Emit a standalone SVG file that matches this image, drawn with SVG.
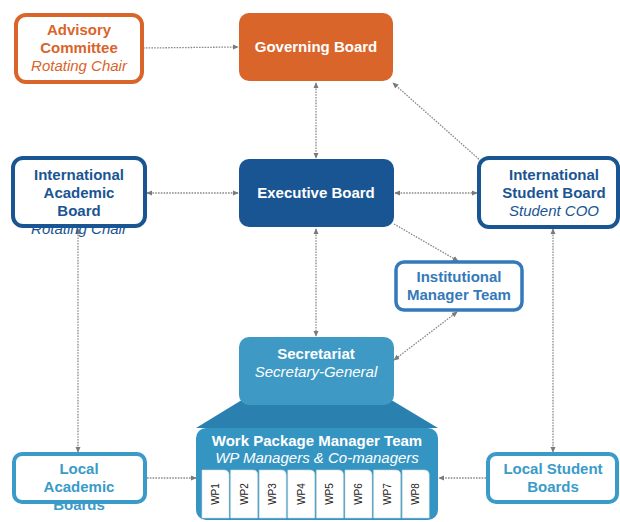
<svg xmlns="http://www.w3.org/2000/svg" width="620" height="522" viewBox="0 0 620 522">
<defs>
<style>
text{font-family:"Liberation Sans",Arial,sans-serif;font-size:15px;text-anchor:middle}
.b{font-weight:bold}
.i{font-style:italic}
.w{fill:#fff}
.or{fill:#D9652B}
.db{fill:#1A5593}
.mb{fill:#3479BA}
.lb{fill:#3A9BC8}
.con path{fill:none;stroke:#8a8a8a;stroke-width:1.3;stroke-dasharray:1.6 1.2}
.tab{fill:#fff;stroke:#c9d6de;stroke-width:0.6}
.wp{font-size:10px;fill:#222}
</style>
<marker id="ah" viewBox="0 0 8 8" refX="7" refY="4" markerWidth="6" markerHeight="6" markerUnits="userSpaceOnUse" orient="auto-start-reverse">
<path d="M0,0.5 L8,4 L0,7.5 Z" fill="#7a7a7a"/>
</marker>
</defs>
<rect width="620" height="522" fill="#fff"/>

<g class="con">
<path d="M143,48 L238,47" marker-end="url(#ah)"/>
<path d="M316,83 L316,158" marker-start="url(#ah)" marker-end="url(#ah)"/>
<path d="M316,229 L316,336" marker-start="url(#ah)" marker-end="url(#ah)"/>
<path d="M238,193 L147,193" marker-start="url(#ah)" marker-end="url(#ah)"/>
<path d="M395,193 L477,193" marker-start="url(#ah)" marker-end="url(#ah)"/>
<path d="M481,161 L393,83" marker-end="url(#ah)"/>
<path d="M394,224 L458,261" marker-end="url(#ah)"/>
<path d="M457,312 L394,360" marker-start="url(#ah)" marker-end="url(#ah)"/>
<path d="M78,229 L78,452" marker-start="url(#ah)" marker-end="url(#ah)"/>
<path d="M553,229 L553,452" marker-start="url(#ah)" marker-end="url(#ah)"/>
<path d="M147,478 L196,478" marker-end="url(#ah)"/>
<path d="M486,478 L439,478" marker-end="url(#ah)"/>
</g>

<g id="advisory">
<rect x="16" y="15" width="126" height="67" rx="10" fill="#fff" stroke="#D9652B" stroke-width="4"/>
<text class="b or" x="79" y="35">Advisory</text>
<text class="b or" x="79" y="53">Committee</text>
<text class="i or" x="79" y="71">Rotating Chair</text>
</g>

<g id="governing">
<rect x="239" y="13" width="154" height="68" rx="10" fill="#D9652B"/>
<text class="b w" x="316" y="52">Governing Board</text>
</g>

<g id="executive">
<rect x="239" y="159" width="155" height="68" rx="10" fill="#1A5593"/>
<text class="b w" x="316" y="198">Executive Board</text>
</g>

<g id="iab">
<text class="i db" x="79" y="234">Rotating Chair</text>
<rect x="13" y="158" width="132" height="68" rx="10" fill="#fff" stroke="#1A5593" stroke-width="4"/>
<text class="b db" x="79" y="180">International</text>
<text class="b db" x="79" y="198">Academic</text>
<text class="b db" x="79" y="216">Board</text>
</g>

<g id="isb">
<rect x="479" y="158" width="139" height="69" rx="10" fill="#fff" stroke="#1A5593" stroke-width="4"/>
<text class="b db" x="554" y="180">International</text>
<text class="b db" x="554" y="198">Student Board</text>
<text class="i db" x="554" y="216">Student COO</text>
</g>

<g id="imt">
<rect x="396" y="262" width="126" height="48" rx="8" fill="#fff" stroke="#3479BA" stroke-width="3.5"/>
<text class="b mb" x="459" y="282">Institutional</text>
<text class="b mb" x="459" y="300">Manager Team</text>
</g>

<g id="wpmt">
<path d="M250,395 L383,395 L438,428 L196,428 Z" fill="#2A80AF"/>
<rect x="196" y="428" width="242" height="92" rx="10" fill="#3595C2"/>
<text class="b w" x="317" y="446">Work Package Manager Team</text>
<text class="i w" x="317" y="463">WP Managers &amp; Co-managers</text>
<g id="wp1"><path class="tab" d="M202,518 L202,470 L224,470 Q229,470 229,475 L229,518 Z"/><text class="wp" transform="translate(219,494) rotate(-90)">WP1</text></g>
<g id="wp2"><path class="tab" d="M230.6,518 L230.6,470 L252.6,470 Q257.6,470 257.6,475 L257.6,518 Z"/><text class="wp" transform="translate(247.6,494) rotate(-90)">WP2</text></g>
<g id="wp3"><path class="tab" d="M259.2,518 L259.2,470 L281.2,470 Q286.2,470 286.2,475 L286.2,518 Z"/><text class="wp" transform="translate(276.2,494) rotate(-90)">WP3</text></g>
<g id="wp4"><path class="tab" d="M287.8,518 L287.8,470 L309.8,470 Q314.8,470 314.8,475 L314.8,518 Z"/><text class="wp" transform="translate(304.8,494) rotate(-90)">WP4</text></g>
<g id="wp5"><path class="tab" d="M316.4,518 L316.4,470 L338.4,470 Q343.4,470 343.4,475 L343.4,518 Z"/><text class="wp" transform="translate(333.4,494) rotate(-90)">WP5</text></g>
<g id="wp6"><path class="tab" d="M345,518 L345,470 L367,470 Q372,470 372,475 L372,518 Z"/><text class="wp" transform="translate(362,494) rotate(-90)">WP6</text></g>
<g id="wp7"><path class="tab" d="M373.6,518 L373.6,470 L395.6,470 Q400.6,470 400.6,475 L400.6,518 Z"/><text class="wp" transform="translate(390.6,494) rotate(-90)">WP7</text></g>
<g id="wp8"><path class="tab" d="M402.2,518 L402.2,470 L424.2,470 Q429.2,470 429.2,475 L429.2,518 Z"/><text class="wp" transform="translate(419.2,494) rotate(-90)">WP8</text></g>
</g>

<g id="secretariat">
<rect x="239" y="337" width="155" height="68" rx="10" fill="#3E9AC4"/>
<text class="b w" x="316" y="359">Secretariat</text>
<text class="i w" x="316" y="377">Secretary-General</text>
</g>

<g id="lab">
<text class="b lb" x="79" y="510">Boards</text>
<rect x="14" y="454" width="131" height="48" rx="8" fill="#fff" stroke="#3A9BC8" stroke-width="4"/>
<text class="b lb" x="79" y="474">Local</text>
<text class="b lb" x="79" y="492">Academic</text>
</g>

<g id="lsb">
<rect x="488" y="454" width="129" height="48" rx="8" fill="#fff" stroke="#3A9BC8" stroke-width="4"/>
<text class="b lb" x="553" y="474">Local Student</text>
<text class="b lb" x="553" y="492">Boards</text>
</g>
</svg>
